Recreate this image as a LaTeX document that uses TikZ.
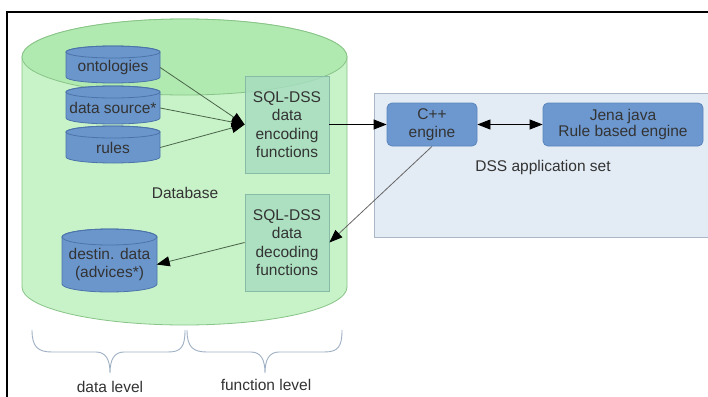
\documentclass[tikz,border=0pt]{standalone}
\usepackage{fontspec}
\setmainfont{Liberation Sans}
\usetikzlibrary{arrows.meta}
\definecolor{dbbody}{HTML}{C8F2C8}
\definecolor{dbtop}{HTML}{B0EAB0}
\definecolor{dbline}{HTML}{88C488}
\definecolor{canfill}{HTML}{6A96CC}
\definecolor{canline}{HTML}{4C74AA}
\definecolor{fnfill}{HTML}{A6DCC0}
\definecolor{fnline}{HTML}{86BCA6}
\definecolor{appfill}{HTML}{E3EBF4}
\definecolor{appline}{HTML}{A9B7C6}
\definecolor{engfill}{HTML}{6D98CF}
\definecolor{engline}{HTML}{5A85BD}
\definecolor{bracecol}{HTML}{9FB0C4}
\definecolor{txt}{HTML}{333333}
\definecolor{flowline}{HTML}{4A664A}
\tikzset{
  lbl/.style={text=txt, font=\fontsize{15.5}{18.5}\selectfont, align=center, inner sep=0pt},
  cantext/.style={lbl, draw=none, minimum width=94pt},
  fnbox/.style={lbl, draw=fnline, fill=fnfill, fill opacity=0.8, text opacity=1,
    line width=0.8pt, minimum width=84pt, minimum height=97pt},
  engbox/.style={lbl, draw=engline, fill=engfill, rounded corners=5pt,
    line width=0.8pt, minimum height=43pt},
  tip/.tip={Triangle[length=13pt,width=10pt,color=black]},
  flow/.style={draw=flowline, line width=0.8pt, -tip},
  call/.style={draw=black, line width=0.8pt, -tip},
  wire/.style={draw=gray!80!black, line width=0.8pt, -tip},
  bracestyle/.style={draw=bracecol, line width=0.9pt},
}
% cylinder with a centred text node: name, cx, cy, half width, half height, ry, text
\newcommand\dbcan[7]{%
  \path[fill=canfill, draw=canline, line width=0.8pt]
    (#2-#4,#3-#5+#6) -- (#2-#4,#3+#5-#6)
    arc[start angle=180, end angle=0, x radius=#4, y radius=#6]
    -- (#2+#4,#3-#5+#6)
    arc[start angle=0, end angle=-180, x radius=#4, y radius=#6] -- cycle;
  \draw[canline, line width=0.8pt] (#2,#3-#5+#6) ellipse[x radius=#4, y radius=#6];
  \node[cantext, minimum height=2*#5] (#1) at (#2,#3+#6*0.5) {#7};
}
\begin{document}
\begin{tikzpicture}[x=1pt,y=-1pt]
\useasboundingbox[fill=white] (0,0) rectangle (708,396);
\clip (0,0) rectangle (708,396);

% outer frame
\draw[line width=2pt] (7,400) -- (7,12) -- (712,12);

% database cylinder
\path[fill=dbbody, draw=dbline, line width=0.8pt]
  (22,57) -- (22,287)
  arc[start angle=180, end angle=0, x radius=162.5, y radius=38]
  -- (347,57)
  arc[start angle=0, end angle=-180, x radius=162.5, y radius=38] -- cycle;
\draw[fill=dbtop, draw=dbline, line width=0.8pt] (184.5,57) ellipse[x radius=162.5, y radius=38];
\node[lbl] (db) at (185,193) {Database};

% data level stores
\dbcan{onto}{113}{64.5}{47}{18.5}{6}{ontologies}
\dbcan{src}{113}{105}{47}{19}{6}{data source*}
\dbcan{rules}{113}{144.5}{47}{18.5}{6}{rules}
\dbcan{dest}{109.5}{260.5}{47.5}{31.5}{8}{destin. data\\(advices*)}

% function level boxes
\node[fnbox] (enc) at (287,124.5) {SQL-DSS\\data\\encoding\\functions};
\node[fnbox] (dec) at (287,242.5) {SQL-DSS\\data\\decoding\\functions};

% application set
\path[fill=appfill, draw=appline, line width=0.8pt] (374,93) rectangle (720,237);
\node[lbl] (app) at (543,167) {DSS application set};
\node[engbox, minimum width=90pt] (cpp) at (432,124.5) {C++\\engine};
\node[engbox, minimum width=160pt, font=\fontsize{15.5}{16.5}\selectfont] (jena) at (623,124.5) {Jena java\\Rule based engine};

% connectors
\draw[flow] (onto.east) -- (enc.west);
\draw[flow] (src.east) -- (enc.west);
\draw[flow] (rules.east) -- (enc.west);
\draw[call] (enc.east) -- (cpp.west);
\draw[call, tip-tip] (cpp.east) -- (jena.west);
\draw[wire] (cpp.south) -- (dec.east);
\draw[flow] (dec.west) -- (dest.east);

% level braces
\draw[bracestyle] (32,330) .. controls (32,347) and (38,352) .. (52,352) -- (96,352)
  .. controls (106,352) and (110,360) .. (110,373)
  .. controls (110,360) and (114,352) .. (124,352) -- (168,352)
  .. controls (181,352) and (185,347) .. (185,330);
\draw[bracestyle] (187,330) .. controls (187,347) and (193,352) .. (207,352) -- (251,352)
  .. controls (261,352) and (265,360) .. (265,373)
  .. controls (265,360) and (269,352) .. (279,352) -- (324,352)
  .. controls (338,352) and (342,347) .. (342,330);
\node[lbl, anchor=base] (dlev) at (110,392.5) {data level};
\node[lbl, anchor=base] (flev) at (266,390) {function level};
\end{tikzpicture}
\end{document}
